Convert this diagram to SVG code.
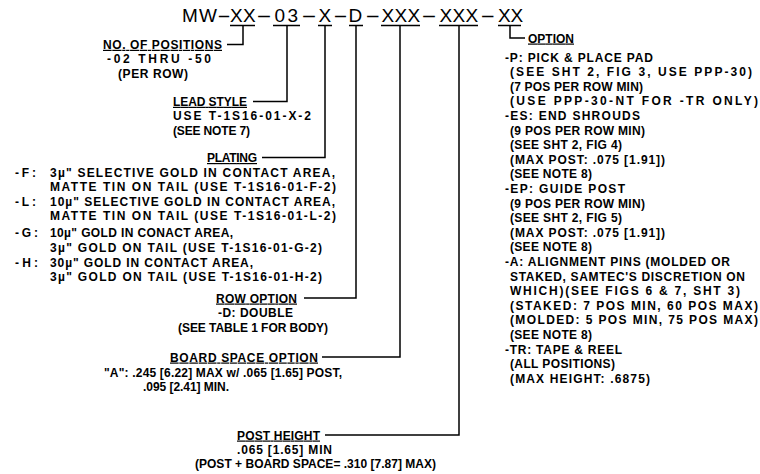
<svg xmlns="http://www.w3.org/2000/svg" width="760" height="474" viewBox="0 0 760 474">
<style>
.t{font-family:"Liberation Sans",Arial,sans-serif;font-size:12px;font-weight:bold;fill:#000}
.u{text-decoration:underline}
.title{font-family:"Liberation Sans",Arial,sans-serif;font-size:19px;fill:#000}
.c{stroke:#000;stroke-width:1.5;fill:none}
.ul{stroke:#000;stroke-width:1.3;fill:none}
</style>
<rect width="760" height="474" fill="#fff"/>
<g id="title">
<text class="title" y="22"><tspan x="182 199">MW</tspan><tspan x="217" textLength="14" lengthAdjust="spacingAndGlyphs">-</tspan><tspan x="230 243">XX</tspan><tspan x="256" textLength="16" lengthAdjust="spacingAndGlyphs">-</tspan><tspan x="274.5 287.5">03</tspan><tspan x="301" textLength="16" lengthAdjust="spacingAndGlyphs">-</tspan><tspan x="318.5">X</tspan><tspan x="333" textLength="15" lengthAdjust="spacingAndGlyphs">-</tspan><tspan x="348.5">D</tspan><tspan x="365" textLength="15.5" lengthAdjust="spacingAndGlyphs">-</tspan><tspan x="381.5 394.5 407.5">XXX</tspan><tspan x="421" textLength="16" lengthAdjust="spacingAndGlyphs">-</tspan><tspan x="439.5 452.5 465.5">XXX</tspan><tspan x="480" textLength="15.5" lengthAdjust="spacingAndGlyphs">-</tspan><tspan x="498 510.5">XX</tspan></text>
</g>
<g id="connectors">
<path class="ul" d="M230 25.5H255M273 25.5H300M318 25.5H332M349 25.5H363M381 25.5H420M439 25.5H478M498 25.5H521"/>
<path class="c" d="M243 25.5V44.5H227"/>
<path class="c" d="M287 25.5V101.5H253"/>
<path class="c" d="M325 25.5V157.5H262"/>
<path class="c" d="M356 25.5V298H304"/>
<path class="c" d="M400 25.5V357H322"/>
<path class="c" d="M459 25.5V435H325"/>
<path class="c" d="M510 25.5V38H525"/>
</g>
<g id="positions">
<text class="t u" x="103" y="48.8" textLength="119" lengthAdjust="spacing">NO. OF POSITIONS</text>
<text class="t" x="107" y="63.1" textLength="104" lengthAdjust="spacing">-02 THRU -50</text>
<text class="t" x="118" y="77.5" textLength="70" lengthAdjust="spacing">(PER ROW)</text>
</g>
<g id="lead-style">
<text class="t u" x="173" y="105.8" textLength="74" lengthAdjust="spacing">LEAD STYLE</text>
<text class="t" x="173" y="120.3" textLength="138" lengthAdjust="spacing">USE T-1S16-01-X-2</text>
<text class="t" x="173" y="134.8" textLength="77" lengthAdjust="spacing">(SEE NOTE 7)</text>
</g>
<g id="plating">
<text class="t u" x="207" y="162" textLength="50" lengthAdjust="spacing">PLATING</text>
<text class="t" y="176.5"><tspan x="15" textLength="21" lengthAdjust="spacing">-F:</tspan><tspan x="50" textLength="285" lengthAdjust="spacing">3µ" SELECTIVE GOLD IN CONTACT AREA,</tspan></text>
<text class="t" x="50" y="191" textLength="286" lengthAdjust="spacing">MATTE TIN ON TAIL (USE T-1S16-01-F-2)</text>
<text class="t" y="205.5"><tspan x="15" textLength="21" lengthAdjust="spacing">-L:</tspan><tspan x="50" textLength="285" lengthAdjust="spacing">10µ" SELECTIVE GOLD IN CONTACT AREA,</tspan></text>
<text class="t" x="50" y="220" textLength="286" lengthAdjust="spacing">MATTE TIN ON TAIL (USE T-1S16-01-L-2)</text>
<text class="t" y="237"><tspan x="15" textLength="23" lengthAdjust="spacing">-G:</tspan><tspan x="50" textLength="183" lengthAdjust="spacing">10µ" GOLD IN CONACT AREA,</tspan></text>
<text class="t" x="50" y="251.5" textLength="272" lengthAdjust="spacing">3µ" GOLD ON TAIL (USE T-1S16-01-G-2)</text>
<text class="t" y="266.5"><tspan x="15" textLength="23" lengthAdjust="spacing">-H:</tspan><tspan x="50" textLength="203" lengthAdjust="spacing">30µ" GOLD IN CONTACT AREA,</tspan></text>
<text class="t" x="50" y="281" textLength="272" lengthAdjust="spacing">3µ" GOLD ON TAIL (USE T-1S16-01-H-2)</text>
</g>
<g id="row-option">
<text class="t u" x="216" y="302.5" textLength="81" lengthAdjust="spacing">ROW OPTION</text>
<text class="t" x="218" y="317" textLength="75" lengthAdjust="spacing">-D: DOUBLE</text>
<text class="t" x="178" y="331.5" textLength="150" lengthAdjust="spacing">(SEE TABLE 1 FOR BODY)</text>
</g>
<g id="board-space">
<text class="t u" x="170" y="361.5" textLength="148" lengthAdjust="spacing">BOARD SPACE OPTION</text>
<text class="t" x="104" y="376.5" textLength="238" lengthAdjust="spacing">"A": .245 [6.22] MAX w/ .065 [1.65] POST,</text>
<text class="t" x="143" y="390.8" textLength="86" lengthAdjust="spacing">.095 [2.41] MIN.</text>
</g>
<g id="post-height">
<text class="t u" x="237" y="439.5" textLength="83" lengthAdjust="spacing">POST HEIGHT</text>
<text class="t" x="237" y="453.8" textLength="95" lengthAdjust="spacing">.065 [1.65] MIN</text>
<text class="t" x="195" y="467.8" textLength="241" lengthAdjust="spacing">(POST + BOARD SPACE= .310 [7.87] MAX)</text>
</g>
<g id="option">
<text class="t u" x="528" y="42.5" textLength="46" lengthAdjust="spacing">OPTION</text>
<text class="t" x="505" y="61.5" textLength="148" lengthAdjust="spacing">-P: PICK &amp; PLACE PAD</text>
<text class="t" x="510" y="76.1" textLength="242" lengthAdjust="spacing">(SEE SHT 2, FIG 3, USE PPP-30)</text>
<text class="t" x="510" y="90.7" textLength="133" lengthAdjust="spacing">(7 POS PER ROW MIN)</text>
<text class="t" x="510" y="105.3" textLength="248" lengthAdjust="spacing">(USE PPP-30-NT FOR -TR ONLY)</text>
<text class="t" x="505" y="119.9" textLength="135" lengthAdjust="spacing">-ES: END SHROUDS</text>
<text class="t" x="510" y="134.5" textLength="135" lengthAdjust="spacing">(9 POS PER ROW MIN)</text>
<text class="t" x="510" y="149.1" textLength="112" lengthAdjust="spacing">(SEE SHT 2, FIG 4)</text>
<text class="t" x="510" y="163.7" textLength="155" lengthAdjust="spacing">(MAX POST: .075 [1.91])</text>
<text class="t" x="510" y="178.3" textLength="82" lengthAdjust="spacing">(SEE NOTE 8)</text>
<text class="t" x="505" y="192.9" textLength="120" lengthAdjust="spacing">-EP: GUIDE POST</text>
<text class="t" x="510" y="207.5" textLength="135" lengthAdjust="spacing">(9 POS PER ROW MIN)</text>
<text class="t" x="510" y="222.1" textLength="112" lengthAdjust="spacing">(SEE SHT 2, FIG 5)</text>
<text class="t" x="510" y="236.7" textLength="155" lengthAdjust="spacing">(MAX POST: .075 [1.91])</text>
<text class="t" x="510" y="251.3" textLength="82" lengthAdjust="spacing">(SEE NOTE 8)</text>
<text class="t" x="505" y="265.9" textLength="225" lengthAdjust="spacing">-A: ALIGNMENT PINS (MOLDED OR</text>
<text class="t" x="510" y="280.5" textLength="235" lengthAdjust="spacing">STAKED, SAMTEC'S DISCRETION ON</text>
<text class="t" x="510" y="295.1" textLength="230" lengthAdjust="spacing">WHICH)(SEE FIGS 6 &amp; 7, SHT 3)</text>
<text class="t" x="510" y="309.7" textLength="248" lengthAdjust="spacing">(STAKED: 7 POS MIN, 60 POS MAX)</text>
<text class="t" x="510" y="324.3" textLength="248" lengthAdjust="spacing">(MOLDED: 5 POS MIN, 75 POS MAX)</text>
<text class="t" x="510" y="338.9" textLength="82" lengthAdjust="spacing">(SEE NOTE 8)</text>
<text class="t" x="505" y="353.5" textLength="117" lengthAdjust="spacing">-TR: TAPE &amp; REEL</text>
<text class="t" x="510" y="368.1" textLength="105" lengthAdjust="spacing">(ALL POSITIONS)</text>
<text class="t" x="510" y="382.7" textLength="140" lengthAdjust="spacing">(MAX HEIGHT: .6875)</text>
</g>
</svg>
